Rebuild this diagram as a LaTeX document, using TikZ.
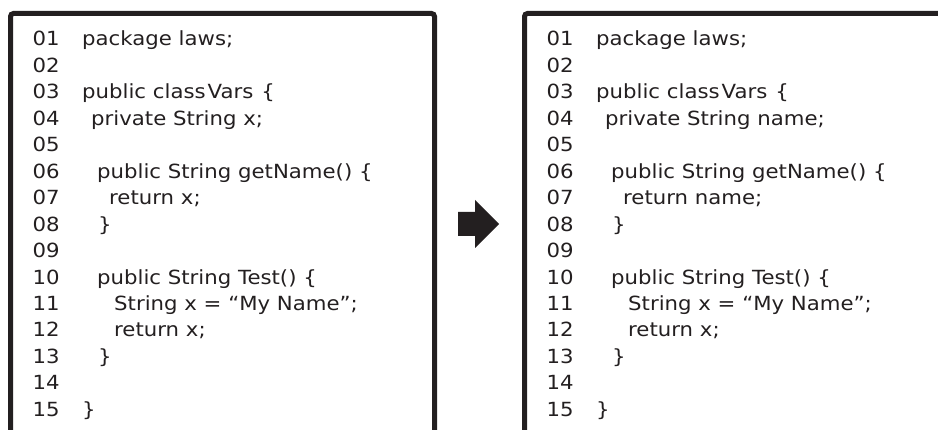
\documentclass[tikz,border=0pt]{standalone}
\usepackage{fontspec}
\setmainfont{DejaVu Sans}[FakeStretch=1.09]
\definecolor{ink}{HTML}{231F20}
\tikzset{
  frame/.style={draw=ink, line width=5pt, rounded corners=3pt},
  codetext/.style={anchor=base west, inner sep=0pt, text=ink, font=\fontsize{19.5}{21}\selectfont},
  bigarrow/.style={fill=ink, draw=none}
}
\begin{document}
\begin{tikzpicture}[x=1pt, y=-1pt]
\useasboundingbox (0,0) rectangle (938,430);
\clip (0,0) rectangle (938,430);
% frames
\coordinate (lb1) at (10.5,445);
\coordinate (lt1) at (10.5,13.5);
\coordinate (lt2) at (434.5,13.5);
\coordinate (lb2) at (434.5,445);
\draw[frame] (lb1) -- (lt1) -- (lt2) -- (lb2);
\coordinate (rb1) at (524.5,445);
\coordinate (rt1) at (524.5,13.5);
\coordinate (rt2) at (960,13.5);
\draw[frame] (rb1) -- (rt1) -- (rt2);
% arrow
\fill[bigarrow] (458,212) -- (475,212) -- (475,200) -- (499,224) -- (475,248) -- (475,236) -- (458,236) -- cycle;
% line numbers
\foreach \i in {1,...,15}{
  \node[codetext] (Ln\i) at (32.5,{46+(\i-1)*26.45}) {\ifnum\i<10 0\fi\i};
  \node[codetext] (Rn\i) at (546.5,{46+(\i-1)*26.45}) {\ifnum\i<10 0\fi\i};
}
% left code
\foreach \i/\x/\t in {
  1/82/{package laws;},
  3/82/{public class\kern2pt Vars\kern8pt\{},
  4/91/{private String x;},
  6/97/{public String getName() \{},
  7/109/{return x;},
  8/98/{\}},
  10/97/{public String Test() \{},
  11/114/{String x = “My Name”;},
  12/114/{return x;},
  13/98/{\}},
  15/82/{\}}}{
  \node[codetext] (Lc\i) at (\x,{46+(\i-1)*26.45}) {\t};
}
% right code
\foreach \i/\x/\t in {
  1/82/{package laws;},
  3/82/{public class\kern2pt Vars\kern8pt\{},
  4/91/{private String name;},
  6/97/{public String getName() \{},
  7/109/{return name;},
  8/98/{\}},
  10/97/{public String Test() \{},
  11/114/{String x = “My Name”;},
  12/114/{return x;},
  13/98/{\}},
  15/82/{\}}}{
  \node[codetext] (Rc\i) at ({\x+514},{46+(\i-1)*26.45}) {\t};
}
\end{tikzpicture}
\end{document}
